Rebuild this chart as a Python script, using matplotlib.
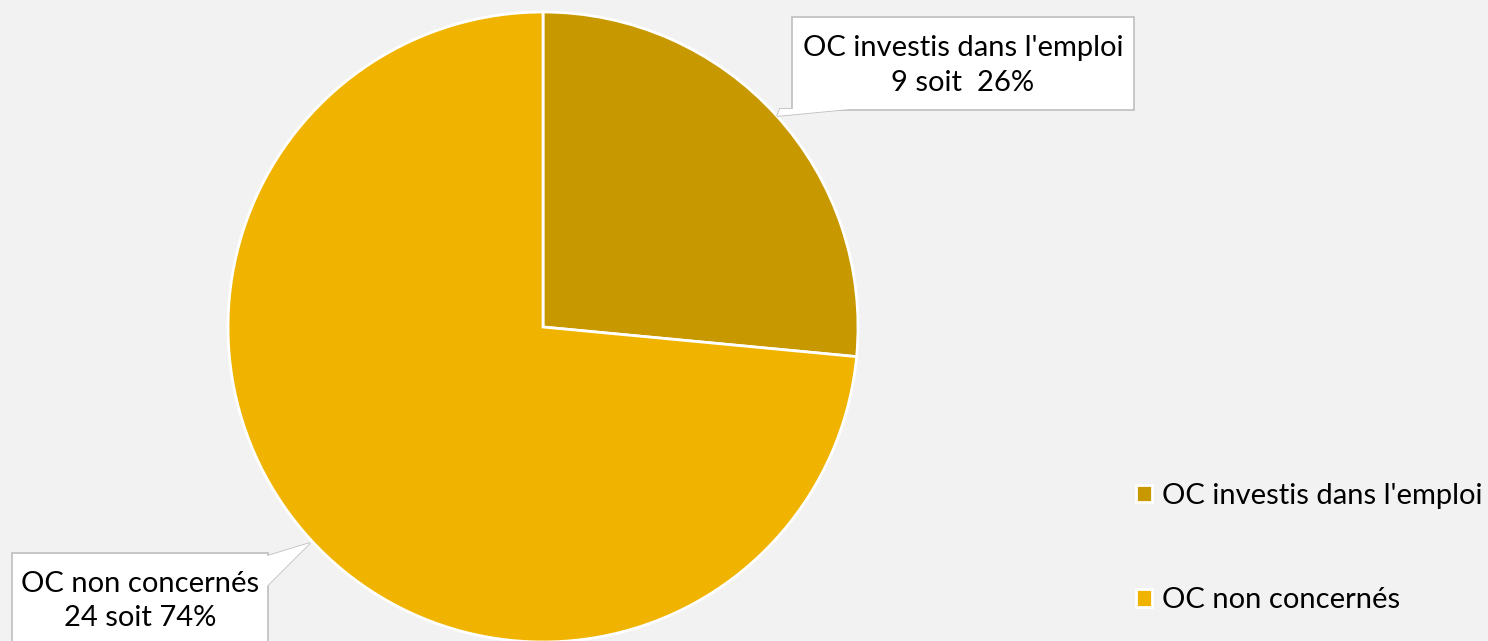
import matplotlib
matplotlib.use("Agg")
from matplotlib import pyplot as plt
from matplotlib.patches import Polygon, Rectangle

plt.rcParams["font.family"] = ["Lato", "DejaVu Sans"]

categories = ["OC investis dans l'emploi", "OC non concernés"]
counts = [9, 24]
percents = [26.5, 73.5]
pct_labels = ["26%", "74%"]
colors = ["#C89800", "#F0B400"]

W, H = 1488, 641
fig = plt.figure(figsize=(W / 100, H / 100), dpi=100, facecolor="#F2F2F2")
ax = fig.add_axes([0, 0, 1, 1])

# pie, centre and radius in pixel units
cx, cy, r = 543, H - 327, 315
wedges, _ = ax.pie(
    percents,
    colors=colors,
    startangle=90,
    counterclock=False,
    center=(cx, cy),
    radius=r,
    wedgeprops=dict(edgecolor="white", linewidth=2),
    frame=True,
)
ax.set_xlim(0, W)
ax.set_ylim(0, H)
ax.set_aspect("equal")
ax.axis("off")

# callout boxes (Excel style)
def callout(x0, y0, x1, y1, wedge_pts, text):
    yb, yt = H - y1, H - y0
    ax.add_patch(Polygon([(x, H - y) for x, y in wedge_pts], closed=True,
                         facecolor="white", edgecolor="#BFBFBF", lw=1.2, zorder=4))
    ax.add_patch(Rectangle((x0, yb), x1 - x0, yt - yb, facecolor="white",
                           edgecolor="#BFBFBF", lw=1.2, zorder=5))
    ax.add_patch(Polygon([(x, H - y) for x, y in wedge_pts], closed=True,
                         facecolor="white", edgecolor="none", zorder=6))
    ax.text((x0 + x1) / 2, (yb + yt) / 2 - 2, text, ha="center", va="center",
            fontsize=21, color="black", linespacing=1.42, zorder=7)

callout(792, 17, 1134, 110, [(780, 109), (850, 109), (777, 116)],
        f"{categories[0]}\n{counts[0]} soit  {pct_labels[0]}")
callout(12, 553, 268, 645, [(267, 556), (310, 543), (267, 586)],
        f"{categories[1]}\n{counts[1]} soit {pct_labels[1]}")

leg = ax.legend(wedges, categories, loc="upper left", bbox_to_anchor=(1136 / W, 1 - 483 / H),
                frameon=False, fontsize=21, handlelength=0.55, handleheight=0.55,
                handletextpad=0.35, labelspacing=2.68, borderpad=0, borderaxespad=0)

fig.savefig("out.png", dpi=100, facecolor=fig.get_facecolor())
